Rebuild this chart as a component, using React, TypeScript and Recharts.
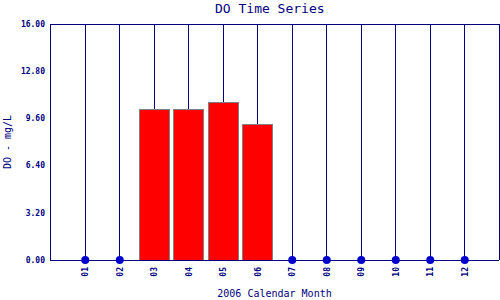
import { ComposedChart, Bar, Line, XAxis, YAxis, CartesianGrid, Label } from "recharts";

const months = ["01", "02", "03", "04", "05", "06", "07", "08", "09", "10", "11", "12"];
const doBars = [null, null, 10.2, 10.2, 10.7, 9.2, null, null, null, null, null, null];
const doPoints = [0, 0, null, null, null, null, 0, 0, 0, 0, 0, 0];
const yTicks = [0, 3.2, 6.4, 9.6, 12.8, 16];

const data = months.map((m, i) => ({ month: m, bar: doBars[i], point: doPoints[i] }));

const NAVY = "#000080";
const MONO = "'DejaVu Sans Mono', monospace";

function MonthTick({ x, y, payload }: any) {
    return (
        <text
            transform={`translate(${x + 3},${y + 5}) rotate(-90)`}
            textAnchor="end"
            fontFamily={MONO}
            fontSize={8}
            fontWeight="bold"
            fill={NAVY}
        >
            {payload.value}
        </text>
    );
}

function App() {
    return (
        <div style={{ position: "absolute", left: 0, top: 0, width: 500, height: 300, background: "#fff" }}>
            <div style={{ position: "absolute", left: 215, top: 1, fontFamily: MONO, fontSize: 13, lineHeight: "16px", color: NAVY }}>
                DO Time Series
            </div>
            <ComposedChart width={500} height={300} data={data} margin={{ top: 24, right: 1, bottom: 0, left: 0 }}>
                <CartesianGrid stroke={NAVY} strokeWidth={1} shapeRendering="crispEdges" />
                <XAxis
                    dataKey="month"
                    height={40}
                    padding={{ left: 18, right: 17 }}
                    tickLine={false}
                    tickSize={0}
                    axisLine={{ stroke: NAVY, shapeRendering: "crispEdges" }}
                    tick={<MonthTick />}
                    interval={0}
                >
                    <Label
                        value="2006 Calendar Month"
                        position="insideBottom"
                        offset={3}
                        style={{ fontFamily: MONO, fontSize: 10, fill: NAVY }}
                    />
                </XAxis>
                <YAxis
                    yAxisId="left"
                    width={50}
                    domain={[0, 16]}
                    ticks={yTicks}
                    tickFormatter={(v: number) => v.toFixed(2)}
                    tickLine={false}
                    tickSize={0}
                    tickMargin={5}
                    axisLine={{ stroke: NAVY, shapeRendering: "crispEdges" }}
                    tick={{ fontFamily: MONO, fontSize: 8, fontWeight: "bold", fill: NAVY }}
                >
                    <Label
                        content={({ viewBox }: any) => (
                            <text
                                transform={`translate(${viewBox.x + 11},${viewBox.y + viewBox.height / 2}) rotate(-90)`}
                                textAnchor="middle"
                                fontFamily={MONO}
                                fontSize={10}
                                fill={NAVY}
                            >
                                DO - mg/L
                            </text>
                        )}
                    />
                </YAxis>
                <YAxis
                    yAxisId="right"
                    orientation="right"
                    width={0}
                    domain={[0, 16]}
                    tick={false}
                    tickLine={false}
                    axisLine={{ stroke: NAVY, shapeRendering: "crispEdges" }}
                />
                <Bar
                    yAxisId="left"
                    dataKey="bar"
                    barSize={30}
                    fill="#ff0000"
                    stroke="#808080"
                    strokeWidth={1}
                    shapeRendering="crispEdges"
                    isAnimationActive={false}
                />
                <Line
                    yAxisId="left"
                    dataKey="point"
                    stroke="none"
                    dot={{ r: 4, fill: "#0000cc", stroke: "none" }}
                    activeDot={false}
                    isAnimationActive={false}
                />
            </ComposedChart>
        </div>
    );
}

export default App;
